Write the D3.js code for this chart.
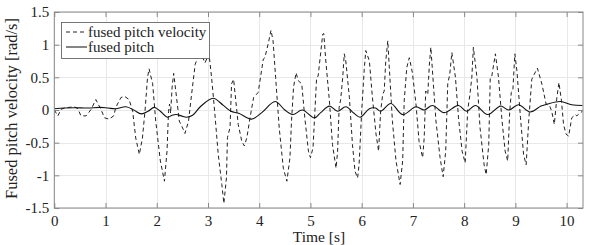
<!DOCTYPE html>
<html lang="en">
<head>
  <meta charset="UTF-8" />
  <title>Fused pitch velocity</title>
  <script src="https://d3js.org/d3.v7.min.js"></script>
  <style>
    html, body { margin: 0; padding: 0; background: #fff; }
    svg { display: block; font-family: "Liberation Serif", "DejaVu Serif", serif; }
  </style>
</head>
<body>
<svg width="592" height="245"></svg>
<script>
  // fused pitch velocity (dashed)
  const velT = [0.00,0.07,0.13,0.20,0.29,0.39,0.46,0.52,0.62,0.72,0.81,0.91,0.98,1.07,1.16,1.20,1.30,1.37,1.46,1.53,1.59,1.66,1.72,1.77,1.82,1.85,1.92,1.98,2.07,2.15,2.20,2.23,2.25,2.27,2.30,2.33,2.37,2.44,2.52,2.55,2.62,2.68,2.75,2.85,2.94,3.02,3.07,3.13,3.20,3.27,3.31,3.36,3.38,3.43,3.46,3.50,3.53,3.59,3.66,3.71,3.76,3.82,3.89,3.98,4.08,4.11,4.18,4.23,4.27,4.32,4.39,4.47,4.54,4.60,4.63,4.67,4.72,4.76,4.83,4.89,4.96,5.00,5.05,5.12,5.15,5.24,5.26,5.30,5.37,5.43,5.50,5.53,5.56,5.59,5.63,5.66,5.69,5.76,5.82,5.87,5.92,5.95,6.00,6.05,6.08,6.15,6.21,6.28,6.33,6.37,6.41,6.44,6.47,6.51,6.55,6.60,6.67,6.75,6.80,6.83,6.88,6.93,6.99,7.06,7.12,7.19,7.22,7.25,7.29,7.32,7.35,7.40,7.45,7.53,7.59,7.64,7.68,7.72,7.76,7.83,7.89,7.96,8.02,8.07,8.11,8.15,8.18,8.25,8.31,8.39,8.43,8.48,8.51,8.54,8.61,8.67,8.74,8.80,8.85,8.89,8.92,8.95,8.99,9.03,9.10,9.16,9.21,9.26,9.32,9.37,9.43,9.52,9.60,9.67,9.71,9.76,9.81,9.85,9.90,9.94,9.99,10.04,10.10,10.17,10.20,10.27,10.31];
  const velV = [0.00,-0.09,0.01,0.03,0.04,0.05,0.02,-0.09,-0.09,0.01,0.16,0.01,-0.12,-0.14,-0.09,0.04,0.19,0.21,0.16,-0.02,-0.43,-0.68,-0.43,-0.02,0.50,0.63,0.40,-0.17,-0.78,-1.09,-0.63,-0.02,0.09,-0.05,0.35,0.56,0.30,-0.17,-0.30,-0.36,-0.17,0.24,0.70,0.90,0.72,0.86,0.50,-0.02,-0.68,-1.14,-1.43,-1.04,-0.42,-0.27,0.40,0.47,0.24,-0.22,-0.48,-0.55,-0.42,-0.12,0.19,0.27,0.78,0.80,1.03,1.22,1.06,0.50,-0.27,-0.89,-1.09,-0.73,-0.17,0.35,0.57,0.45,0.40,-0.12,-0.63,-0.73,-0.58,0.49,0.52,1.16,1.17,0.75,0.14,-0.53,-0.89,-0.63,0.04,0.16,0.50,0.86,0.75,0.19,-0.53,-0.94,-1.04,-0.83,-0.02,0.62,0.91,0.75,0.19,-0.37,-0.63,-0.02,0.24,0.29,0.75,1.06,0.50,-0.17,-0.78,-1.14,-0.78,0.14,0.65,0.80,0.57,0.09,-0.48,-0.73,-0.43,0.29,0.24,0.68,0.96,0.39,-0.17,-0.73,-1.02,-0.63,0.40,0.55,0.88,0.50,-0.12,-0.63,-0.81,0.00,0.22,0.50,0.96,0.50,-0.27,-0.84,-0.99,-0.53,0.50,0.52,0.86,0.50,-0.17,-0.63,-0.78,-0.02,0.27,0.29,0.86,0.60,-0.12,-0.68,-0.84,-0.17,0.47,0.55,0.64,0.39,0.09,0.06,-0.02,-0.22,0.19,0.42,0.14,-0.22,-0.37,-0.40,-0.12,-0.07,-0.09,-0.04,-0.02];

  // fused pitch (solid)
  const pitchT = [0.00,0.20,0.40,0.65,0.90,1.05,1.20,1.40,1.55,1.70,1.83,1.95,2.07,2.21,2.30,2.38,2.48,2.58,2.70,2.85,3.10,3.30,3.45,3.60,3.85,4.05,4.31,4.50,4.66,4.84,5.08,5.20,5.37,5.53,5.69,5.85,5.97,6.15,6.27,6.37,6.57,6.80,7.06,7.22,7.38,7.61,7.89,8.05,8.22,8.46,8.71,8.87,9.06,9.29,9.50,9.62,9.88,10.10,10.31];
  const pitchV = [0.02,0.03,0.035,0.03,0.04,0.03,0.02,0.05,0.00,-0.06,-0.02,0.04,-0.02,-0.11,-0.08,-0.07,-0.09,-0.11,-0.08,0.05,0.18,0.07,-0.02,-0.05,-0.14,-0.04,0.13,0.00,-0.07,0.00,-0.12,-0.04,0.06,-0.02,0.05,-0.05,-0.11,0.02,0.03,-0.02,0.10,-0.07,0.05,0.00,0.07,-0.04,0.07,-0.02,0.07,-0.07,0.06,0.00,0.08,-0.03,0.06,0.09,0.13,0.08,0.07];

  const xTicks = [0,1,2,3,4,5,6,7,8,9,10];
  const yTicks = [-1.5,-1,-0.5,0,0.5,1,1.5];
  const seriesNames = ["fused pitch velocity", "fused pitch"];

  const svg = d3.select("svg");
  const mLeft = 54.3, mRight = 583, mTop = 12, mBottom = 208;
  const x = d3.scaleLinear().domain([0, 10.32]).range([mLeft, mRight]);
  const y = d3.scaleLinear().domain([-1.5, 1.5]).range([mBottom, mTop]);
  const fmt = v => String(v);

  // grid
  const grid = svg.append("g").attr("stroke", "#e8e8e8").attr("stroke-width", 1);
  grid.selectAll(".gx").data(xTicks).join("line")
    .attr("x1", d => Math.round(x(d)) + 0.5).attr("x2", d => Math.round(x(d)) + 0.5)
    .attr("y1", mTop).attr("y2", mBottom);
  grid.selectAll(".gy").data(yTicks).join("line")
    .attr("y1", d => Math.round(y(d)) + 0.5).attr("y2", d => Math.round(y(d)) + 0.5)
    .attr("x1", mLeft).attr("x2", mRight);

  svg.append("clipPath").attr("id", "clip")
    .append("rect").attr("x", mLeft).attr("y", mTop).attr("width", mRight - mLeft).attr("height", mBottom - mTop);

  const plot = svg.append("g").attr("clip-path", "url(#clip)");
  const lineV = d3.line().x(i => x(velT[i])).y(i => y(velV[i]));
  const lineP = d3.line().x(i => x(pitchT[i])).y(i => y(pitchV[i])).curve(d3.curveCatmullRom);

  plot.append("path").attr("d", lineV(d3.range(velT.length)))
    .attr("fill", "none").attr("stroke", "#222").attr("stroke-width", 1)
    .attr("stroke-dasharray", "4,3");
  plot.append("path").attr("d", lineP(d3.range(pitchT.length)))
    .attr("fill", "none").attr("stroke", "#111").attr("stroke-width", 1.1);

  // axes (box with inward ticks on all sides)
  const axisColor = "#888";
  const tl = 5;
  const xb = svg.append("g").attr("transform", `translate(0,${mBottom})`)
    .call(d3.axisBottom(x).tickValues(xTicks).tickSize(-tl).tickPadding(7).tickFormat(fmt));
  const xt = svg.append("g").attr("transform", `translate(0,${mTop})`)
    .call(d3.axisTop(x).tickValues(xTicks).tickSize(-tl).tickFormat(""));
  const yl = svg.append("g").attr("transform", `translate(${mLeft},0)`)
    .call(d3.axisLeft(y).tickValues(yTicks).tickSize(-tl).tickPadding(5).tickFormat(fmt));
  const yr = svg.append("g").attr("transform", `translate(${mRight},0)`)
    .call(d3.axisRight(y).tickValues(yTicks).tickSize(-tl).tickFormat(""));
  [xb, xt, yl, yr].forEach(g => {
    g.select(".domain").remove();
    g.selectAll(".tick line").attr("stroke", axisColor);
    g.selectAll("text").attr("fill", "#222").style("font-size", "15px")
      .style("font-family", "'Liberation Serif', serif");
  });
  svg.append("rect").attr("x", mLeft).attr("y", mTop).attr("width", mRight - mLeft).attr("height", mBottom - mTop)
    .attr("fill", "none").attr("stroke", axisColor).attr("stroke-width", 1);

  // axis labels
  svg.append("text").attr("x", 319).attr("y", 242).attr("text-anchor", "middle")
    .style("font-size", "15.5px").attr("fill", "#222").text("Time [s]");
  svg.append("text").attr("transform", `translate(17,108.5) rotate(-90)`)
    .attr("text-anchor", "middle").style("font-size", "16.5px").attr("fill", "#222")
    .text("Fused pitch velocity [rad/s]");

  // legend
  const lg = svg.append("g");
  lg.append("rect").attr("x", 61.5).attr("y", 22.5).attr("width", 148).attr("height", 36)
    .attr("fill", "#fff").attr("stroke", "#555").attr("stroke-width", 0.8);
  seriesNames.forEach((name, i) => {
    const cy = 32 + i * 15;
    lg.append("line").attr("x1", 66).attr("x2", 87).attr("y1", cy).attr("y2", cy)
      .attr("stroke", "#222").attr("stroke-width", i === 0 ? 1 : 1.1)
      .attr("stroke-dasharray", i === 0 ? "4,3" : null);
    lg.append("text").attr("x", 88).attr("y", cy + 5).style("font-size", "15px")
      .attr("fill", "#222").text(name);
  });
</script>
</body>
</html>
